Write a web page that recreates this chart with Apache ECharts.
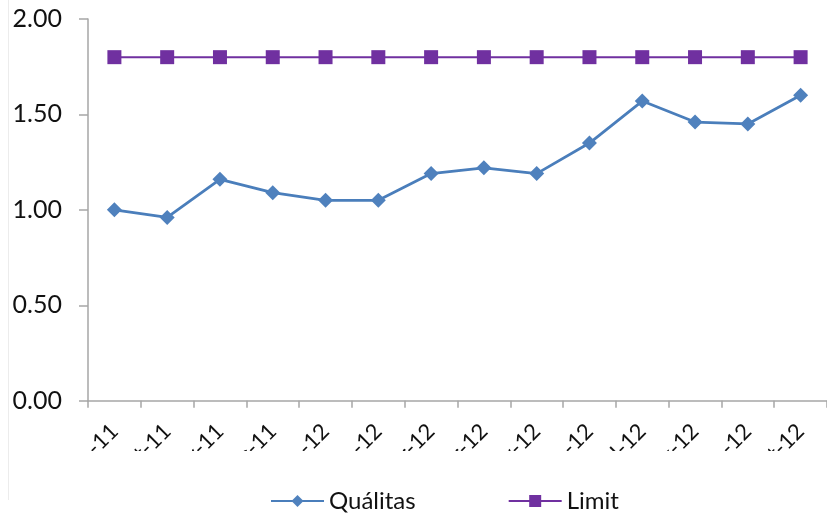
<!DOCTYPE html>
<html>
<head>
<meta charset="utf-8">
<script src="https://cdn.jsdelivr.net/npm/echarts@6/dist/echarts.min.js"></script>
<style>
  html, body { margin: 0; padding: 0; background: #fff; }
  #chart { width: 827px; height: 513px; }
</style>
</head>
<body>
<div id="chart"></div>
<script>
// Monthly index values against a fixed limit
const months = ['Sep-11', 'Oct-11', 'Nov-11', 'Dec-11', 'Jan-12', 'Feb-12', 'Mar-12',
                'Apr-12', 'May-12', 'Jun-12', 'Jul-12', 'Aug-12', 'Sep-12', 'Oct-12'];
const qualitas = [1.00, 0.96, 1.16, 1.09, 1.05, 1.05, 1.19, 1.22, 1.19, 1.35, 1.57, 1.46, 1.45, 1.60];
const limit = [1.80, 1.80, 1.80, 1.80, 1.80, 1.80, 1.80, 1.80, 1.80, 1.80, 1.80, 1.80, 1.80, 1.80];
const yTicks = [0, 0.5, 1, 1.5, 2];

const FONT = 'Lato';
const chart = echarts.init(document.getElementById('chart'), null, { renderer: 'canvas' });

chart.setOption({
  backgroundColor: '#ffffff',
  animation: false,
  grid: { left: 88, top: 19, width: 745, height: 381.7 },
  xAxis: {
    type: 'category',
    data: months,
    boundaryGap: true,
    axisLine: { lineStyle: { color: '#a6a6a6', width: 1.5 } },
    axisTick: { show: true, length: 7, lineStyle: { color: '#a6a6a6', width: 1.5 } },
    axisLabel: { interval: 0, rotate: 45, margin: 27, fontFamily: FONT, fontSize: 22, color: '#111' },
    splitLine: { show: false }
  },
  yAxis: {
    type: 'value',
    min: yTicks[0],
    max: yTicks[yTicks.length - 1],
    interval: yTicks[1] - yTicks[0],
    axisLine: { show: true, lineStyle: { color: '#a6a6a6', width: 1.5 } },
    axisTick: { show: true, length: 9, lineStyle: { color: '#a6a6a6', width: 1.5 } },
    axisLabel: { margin: 26, fontFamily: FONT, fontSize: 25, color: '#111',
                 formatter: v => v.toFixed(2) },
    splitLine: { show: false }
  },
  legend: {
    left: 265,
    top: 484,
    itemWidth: 53,
    itemHeight: 15,
    itemGap: 92,
    textStyle: { fontFamily: FONT, fontSize: 24, color: '#111' },
    data: ['Quálitas', 'Limit']
  },
  series: [
    {
      name: 'Quálitas',
      type: 'line',
      data: qualitas,
      symbol: 'diamond',
      symbolSize: 15,
      itemStyle: { color: '#4f81bd' },
      lineStyle: { color: '#4a7ebb', width: 2.8 },
      z: 3
    },
    {
      name: 'Limit',
      type: 'line',
      data: limit,
      symbol: 'rect',
      symbolSize: 14,
      itemStyle: { color: '#7030a0' },
      lineStyle: { color: '#7030a0', width: 2 },
      z: 4
    }
  ],
  graphic: [
    // the category labels are cut off below this strip
    { type: 'rect', z: 100, shape: { x: 0, y: 451, width: 827, height: 37 },
      style: { fill: '#ffffff' } },
    // faint chart-area border on the left
    { type: 'line', z: 101, shape: { x1: 8.5, y1: 0, x2: 8.5, y2: 500 },
      style: { stroke: '#ececec', lineWidth: 1 } }
  ]
});
</script>
</body>
</html>
